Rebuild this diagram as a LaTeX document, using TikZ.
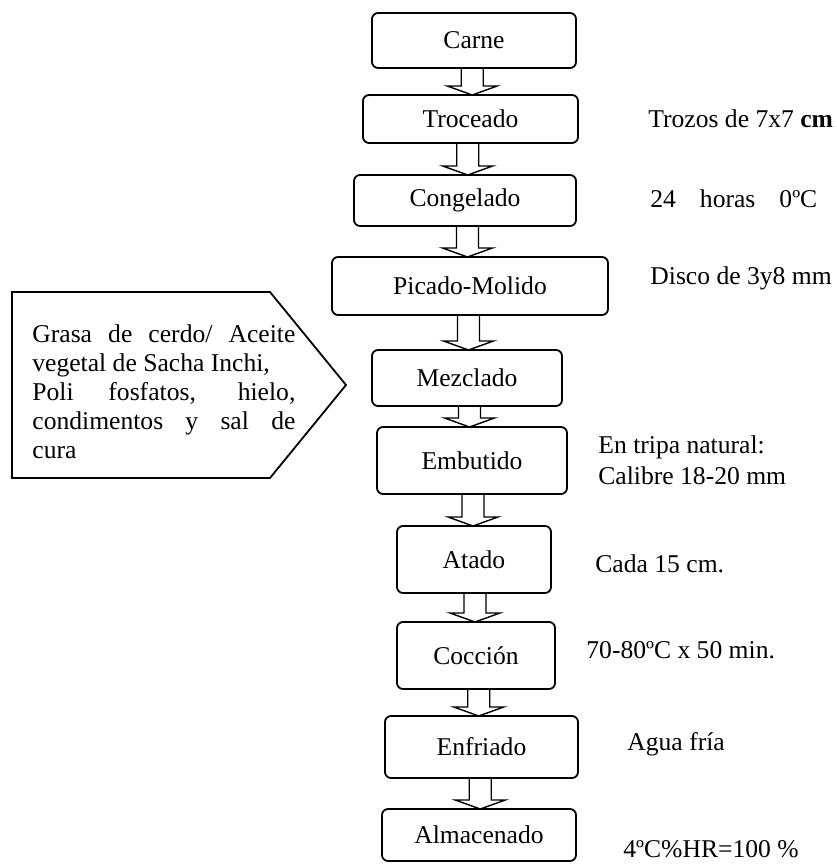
\documentclass[tikz,border=0pt]{standalone}
\usepackage{fontspec}
\setmainfont{Liberation Serif}
\usetikzlibrary{calc}

\newcommand{\flecha}[2]{%
    \draw[flechabloque] let \p1=($(#1.south)!0.5!(#2.north)$), \p2=(#1.south), \p3=(#2.north) in
        (\x1-5.5pt,\y2) -- (\x1-5.5pt,\y3+4.5pt) -- (\x1-12.5pt,\y3+4.5pt) -- (\x1,\y3)
        -- (\x1+12.5pt,\y3+4.5pt) -- (\x1+5.5pt,\y3+4.5pt) -- (\x1+5.5pt,\y2);
}
\newcommand{\linea}[1]{\makebox[131.5pt][s]{#1}}

\begin{document}
\begin{tikzpicture}[x=0.5pt, y=-0.5pt, font=\fontsize{12.8}{14.5}\selectfont,
    paso/.style={draw, rounded corners=3pt, line width=0.9pt, inner sep=0pt, outer sep=0pt},
    nota/.style={anchor=base west, inner sep=0pt},
    flechabloque/.style={line width=0.7pt}]
\useasboundingbox (0,0) rectangle (836,866);
\node[paso, minimum width=102pt, minimum height=27.5pt] (carne) at (474,40.5) {Carne};
\node[paso, minimum width=107.5pt, minimum height=24pt] (troceado) at (470.5,119) {Troceado};
\node[paso, minimum width=111pt, minimum height=25.5pt] (congelado) at (465,200.5) {Congelado};
\node[paso, minimum width=138pt, minimum height=29pt] (picado) at (470,286) {Picado-Molido};
\node[paso, minimum width=95pt, minimum height=28pt] (mezclado) at (467,378) {Mezclado};
\node[paso, minimum width=95pt, minimum height=33.5pt] (embutido) at (472,460.5) {Embutido};
\node[paso, minimum width=77pt, minimum height=33.5pt] (atado) at (474,559.5) {Atado};
\node[paso, minimum width=79pt, minimum height=33.5pt] (coccion) at (476,655.5) {Cocción};
\node[paso, minimum width=96.5pt, minimum height=31pt] (enfriado) at (481.5,747) {Enfriado};
\node[paso, minimum width=97pt, minimum height=26pt] (almacenado) at (479,835) {Almacenado};
\draw[line width=0.9pt] (12,292) -- (270,292) -- (346,385) -- (270,478) -- (12,478) -- cycle;
\node[anchor=north west, inner sep=0pt, align=left] (insumos) at (32,324)
    {\linea{Grasa de cerdo/ Aceite}\\ vegetal de Sacha Inchi,\\ \linea{Poli fosfatos, hielo,}\\
     \linea{condimentos y sal de}\\ cura};
\node[nota] (trozos) at (648,128) {Trozos de 7x7 \textbf{cm}};
\node[nota] (horas) at (650,207) {24\hspace{12pt}horas\hspace{12pt}0ºC};
\node[nota] (disco) at (650,284) {Disco de 3y8 mm};
\node[anchor=north west, inner sep=0pt, align=left, font=\fontsize{12.8}{15.5}\selectfont] (tripa) at (598,435)
    {En tripa natural:\\Calibre 18-20 mm};
\node[nota] (cada) at (595,572) {Cada 15 cm.};
\node[nota] (temp) at (586,658) {70-80ºC x 50 min.};
\node[nota] (agua) at (627,750) {Agua fría};
\node[nota] (hr) at (623,857) {4ºC\%HR=100 \%};
\flecha{carne}{troceado}
\flecha{troceado}{congelado}
\flecha{congelado}{picado}
\flecha{picado}{mezclado}
\flecha{mezclado}{embutido}
\flecha{embutido}{atado}
\flecha{atado}{coccion}
\flecha{coccion}{enfriado}
\flecha{enfriado}{almacenado}
\end{tikzpicture}
\end{document}
